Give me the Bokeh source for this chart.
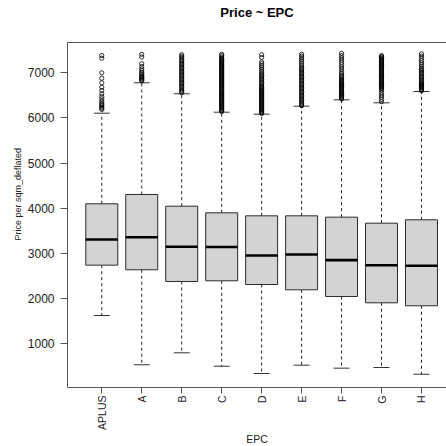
import math
from bokeh.plotting import figure
from bokeh.models import Range1d, FixedTicker, LinearAxis, Title, ColumnDataSource
from bokeh.embed import file_html
from bokeh.resources import INLINE

categories = ["APLUS", "A", "B", "C", "D", "E", "F", "G", "H"]
lower_whisker = [1627, 536, 801, 504, 343, 527, 461, 476, 327]
q1 = [2741, 2639, 2380, 2395, 2313, 2196, 2048, 1908, 1842]
median = [3310, 3360, 3148, 3142, 2955, 2977, 2852, 2741, 2727]
q3 = [4100, 4306, 4047, 3900, 3834, 3834, 3804, 3671, 3746]
upper_whisker = [6106, 6779, 6535, 6128, 6084, 6261, 6402, 6336, 6586]

outliers_APLUS = [7383, 7323, 7000, 6880, 6779, 6681, 6608, 6535, 6475, 6424, 6371,
                  6327, 6298, 6269, 6238, 6216, 6187]
outliers_A = [7410, 7350, 7200, 7140, 7090, 7050, 7010, 6980, 6950, 6920, 6900, 6880,
              6860, 6840, 6820]
outliers_B = [7400, 7370, 7340, 7300, 7270, 7240, 7210, 7180, 7150, 7120, 7090, 7060,
              7030, 7000, 6970, 6940, 6910, 6880, 6850, 6820, 6790, 6760, 6730, 6700,
              6670, 6640, 6610, 6580, 6560]
outliers_C = [7410, 7380, 7350, 7320, 7300, 7280, 7260, 7240, 7220, 7200, 7180, 7160,
              7140, 7120, 7100, 7080, 7060, 7040, 7020, 7000, 6980, 6960, 6940, 6920,
              6900, 6880, 6860, 6840, 6820, 6800, 6780, 6760, 6740, 6720, 6700, 6680,
              6660, 6640, 6620, 6600, 6580, 6560, 6540, 6520, 6500, 6480, 6460, 6440,
              6420, 6400, 6380, 6360, 6340, 6320, 6300, 6280, 6260, 6240, 6220, 6200,
              6180, 6160, 6140]
outliers_D = [7400, 7340, 7240, 7200, 7160, 7120, 7080, 7040, 7000, 6970, 6940, 6910,
              6880, 6850, 6820, 6790, 6760, 6730, 6700, 6680, 6660, 6640, 6620, 6600,
              6580, 6560, 6540, 6520, 6500, 6480, 6460, 6440, 6420, 6400, 6380, 6360,
              6340, 6320, 6300, 6280, 6260, 6240, 6220, 6200, 6180, 6160, 6140, 6120,
              6100]
outliers_E = [7410, 7370, 7330, 7290, 7250, 7210, 7170, 7130, 7100, 7070, 7040, 7010,
              6980, 6950, 6920, 6890, 6860, 6830, 6800, 6770, 6740, 6710, 6680, 6650,
              6620, 6590, 6560, 6530, 6500, 6470, 6440, 6410, 6380, 6350, 6320, 6290,
              6270]
outliers_F = [7430, 7380, 7330, 7280, 7230, 7180, 7130, 7080, 7030, 6990, 6950, 6920,
              6890, 6860, 6840, 6820, 6800, 6780, 6760, 6740, 6720, 6700, 6680, 6660,
              6640, 6620, 6600, 6580, 6560, 6540, 6520, 6500, 6480, 6460, 6440, 6420]
outliers_G = [7380, 7360, 7340, 7320, 7300, 7280, 7260, 7240, 7220, 7200, 7180, 7160,
              7140, 7120, 7100, 7080, 7060, 7040, 7020, 7000, 6980, 6960, 6940, 6920,
              6900, 6880, 6860, 6840, 6820, 6800, 6780, 6760, 6740, 6720, 6700, 6680,
              6660, 6640, 6610, 6560, 6510, 6460, 6410, 6360]
outliers_H = [7420, 7370, 7320, 7270, 7220, 7180, 7140, 7100, 7070, 7040, 7010, 6980,
              6950, 6920, 6890, 6860, 6830, 6800, 6780, 6760, 6740, 6720, 6700, 6680,
              6660, 6640, 6620, 6600]

outliers = [outliers_APLUS, outliers_A, outliers_B, outliers_C, outliers_D,
            outliers_E, outliers_F, outliers_G, outliers_H]

y_ticks = [1000, 2000, 3000, 4000, 5000, 6000, 7000]

title_text = "Price ~ EPC"
x_label = "EPC"
y_label = "Price per sqm_deflated"

# ---------------------------------------------------------------
pos = list(range(1, len(categories) + 1))
box_w = 0.8
cap_w = 0.4

FONT = "Liberation Sans"
AX = "#555555"

p = figure(width=446, height=446, output_backend="svg", toolbar_location=None,
           title=None,
           x_range=Range1d(0.142, 9.626), y_range=Range1d(33, 7671),
           min_border_left=67, min_border_right=0, min_border_top=42,
           min_border_bottom=59)
p.outline_line_color = None
p.xgrid.visible = False
p.ygrid.visible = False
p.background_fill_color = "white"
p.border_fill_color = "white"

src = ColumnDataSource(dict(
    x=pos, lw=lower_whisker, q1=q1, med=median, q3=q3, uw=upper_whisker,
    bx0=[v - box_w / 2 for v in pos], bx1=[v + box_w / 2 for v in pos],
    cx0=[v - cap_w / 2 for v in pos], cx1=[v + cap_w / 2 for v in pos],
))

# whiskers (dashed)
p.segment(x0="x", y0="q3", x1="x", y1="uw", source=src, line_color="#222222",
          line_width=1, line_dash="3 3")
p.segment(x0="x", y0="q1", x1="x", y1="lw", source=src, line_color="#222222",
          line_width=1, line_dash="3 3")
# caps
p.segment(x0="cx0", y0="uw", x1="cx1", y1="uw", source=src, line_color="#333333", line_width=1)
p.segment(x0="cx0", y0="lw", x1="cx1", y1="lw", source=src, line_color="#333333", line_width=1)
# boxes
p.quad(left="bx0", right="bx1", bottom="q1", top="q3", source=src,
       fill_color="#D3D3D3", line_color="#2b2b2b", line_width=1)
# medians
p.segment(x0="bx0", y0="med", x1="bx1", y1="med", source=src, line_color="black",
          line_width=2.6)

# outliers
ox, oy = [], []
for xpos, vals in zip(pos, outliers):
    for v in vals:
        ox.append(xpos)
        oy.append(v)
p.scatter(ox, oy, marker="circle", size=4.2, fill_color=None, line_color="black",
          line_width=0.8)

# axes
xa = p.xaxis[0]
xa.ticker = FixedTicker(ticks=pos)
xa.major_label_overrides = {i: c for i, c in zip(pos, categories)}
xa.major_label_orientation = math.pi / 2
xa.major_tick_out = 6
xa.major_tick_in = 0
xa.minor_tick_out = 0
xa.minor_tick_in = 0
xa.major_label_standoff = 2
xa.major_label_text_font = FONT
xa.major_label_text_font_size = "10.5px"
xa.major_label_text_color = "#222222"
xa.axis_line_color = AX
xa.major_tick_line_color = AX

ya = p.yaxis[0]
ya.ticker = FixedTicker(ticks=y_ticks)
ya.major_tick_out = 7
ya.major_tick_in = 0
ya.minor_tick_out = 0
ya.minor_tick_in = 0
ya.major_label_standoff = 6
ya.major_label_text_font = FONT
ya.major_label_text_font_size = "12px"
ya.major_label_text_color = "#222222"
ya.axis_line_color = AX
ya.major_tick_line_color = AX

top = LinearAxis(ticker=FixedTicker(ticks=[]), axis_line_color=AX,
                 major_tick_out=0, major_tick_in=0, minor_tick_out=0, minor_tick_in=0,
                 major_label_text_font_size="0px")
p.add_layout(top, "above")

# spacer between frame and title, then the title itself
p.add_layout(Title(text=" ", text_font=FONT, text_font_size="17px", standoff=0), "above")
p.add_layout(Title(text=title_text, align="center", vertical_align="top", text_font=FONT,
                   text_font_size="13px", text_font_style="bold", text_color="black",
                   standoff=0), "above")

p.add_layout(Title(text=x_label, align="center", vertical_align="top", text_font=FONT,
                   text_font_size="10.5px", text_font_style="normal",
                   text_color="#222222", standoff=0), "below")
p.add_layout(Title(text=y_label, align="left", text_font=FONT, text_font_size="9px",
                   text_font_style="normal", text_color="#222222", standoff=4,
                   offset=147), "left")

open("out.html", "w").write(file_html(p, INLINE))
